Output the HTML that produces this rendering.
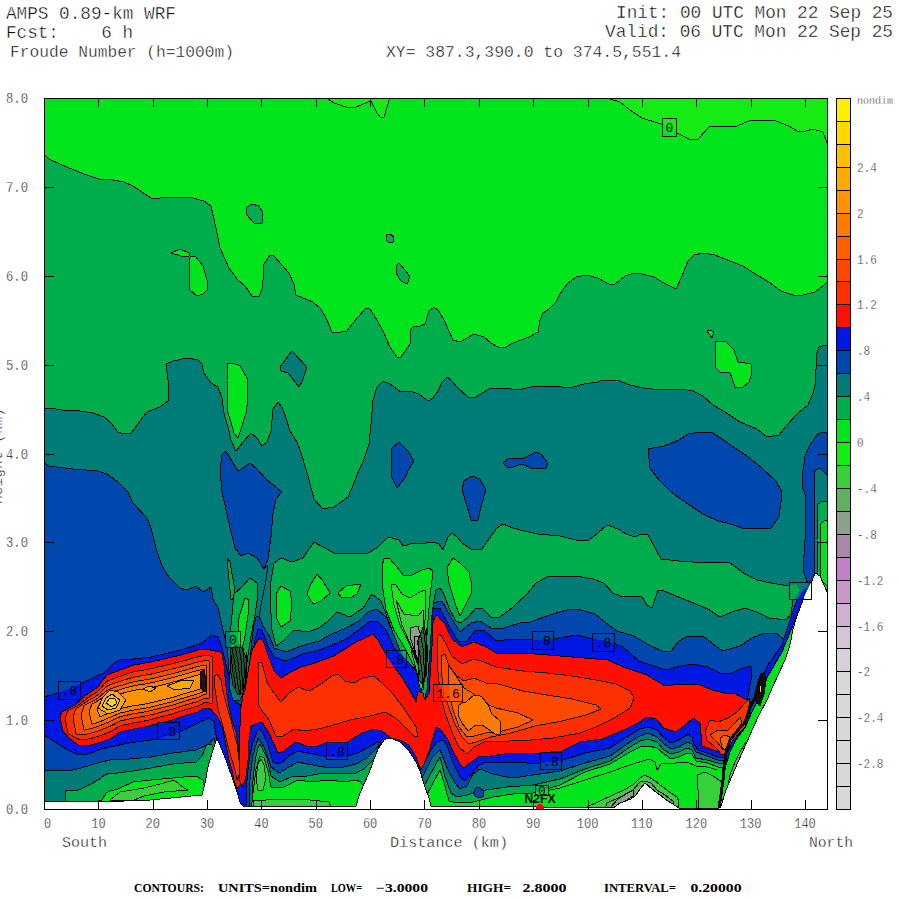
<!DOCTYPE html>
<html><head><meta charset="utf-8"><title>AMPS 0.89-km WRF Froude Number</title>
<style>
html,body{margin:0;padding:0;background:#fff;}
body{width:900px;height:900px;overflow:hidden;position:relative;}
svg{position:absolute;left:0;top:0;}
.m{font-family:"Liberation Mono","DejaVu Sans Mono",monospace;fill:#000;stroke:#fff;stroke-width:0.4px;}
.n{font-family:"Liberation Mono","DejaVu Sans Mono",monospace;fill:#000;}
.s{font-family:"Liberation Serif","DejaVu Serif",serif;font-weight:bold;fill:#000;}
</style></head><body>
<svg width="900" height="900" viewBox="0 0 900 900" shape-rendering="crispEdges">
<defs><clipPath id="pc"><rect x="44" y="98" width="784" height="712"/></clipPath>
<clipPath id="lb0"><rect x="663.0" y="119.0" width="13.0" height="17.0"/></clipPath>
<clipPath id="lb1"><rect x="59.0" y="682.0" width="21.0" height="17.0"/></clipPath>
<clipPath id="lb2"><rect x="158.0" y="723.0" width="21.0" height="16.0"/></clipPath>
<clipPath id="lb3"><rect x="226.0" y="632.0" width="14.0" height="15.0"/></clipPath>
<clipPath id="lb4"><rect x="387.0" y="651.0" width="19.0" height="16.0"/></clipPath>
<clipPath id="lb5"><rect x="327.0" y="743.0" width="20.0" height="16.0"/></clipPath>
<clipPath id="lb6"><rect x="434.0" y="685.0" width="28.0" height="16.0"/></clipPath>
<clipPath id="lb7"><rect x="533.0" y="632.0" width="20.0" height="17.0"/></clipPath>
<clipPath id="lb8"><rect x="593.0" y="634.0" width="21.0" height="17.0"/></clipPath>
<clipPath id="lb9"><rect x="541.0" y="753.0" width="20.0" height="16.0"/></clipPath>
<clipPath id="lb10"><rect x="790.0" y="583.0" width="21.0" height="16.0"/></clipPath>
<clipPath id="lb11"><rect x="536.0" y="786.0" width="12.0" height="9.0"/></clipPath>
<g id="F"><polygon fill="#00E41C" stroke="none" points="40,94 831,94 831,813 40,813"/>
<polygon fill="#14EC14" points="325,97 334,103 346,107 354,108 363,104 371,101 377,113 381,118 384,117 390,97"/>
<polygon fill="#14EC14" points="610,97 610,99 620,102 630,110 642,118 661,124 679,134 691,140 698,139 710,126 720,126 737,126 751,120 776,121 789,126 797,131 806,131 813,129 823,132 827,143 829,143 829,97"/>
<polygon fill="#00AD4C" points="44,154 49,159 62,165 84,174 99,179 113,180 124,182 133,186 151,198 160,198 189,197 204,201 211,206 216,228 220,248 229,268 237,279 246,287 252,296 259,296 262,289 263,280 264,264 270,255 274,256 289,273 294,284 296,295 303,298 313,302 321,309 327,320 332,332 341,332 347,331 353,323 359,316 366,308 370,309 377,320 383,331 390,347 397,357 401,357 410,344 410,330 414,326 420,326 425,324 429,311 434,307 439,311 444,320 449,331 453,340 460,342 467,338 474,334 484,337 491,343 498,347 506,347 513,343 529,337 538,332 540,320 543,313 549,309 556,302 560,294 567,284 576,277 587,275 598,278 605,282 611,285 615,284 625,276 634,273 642,274 654,277 664,283 676,289 682,276 688,261 694,255 703,253 715,255 730,261 743,266 757,275 769,282 781,291 793,295 803,295 815,292 823,286 827,282 829,282 829,812 44,812"/>
<polygon fill="#00AD4C" points="252,204 259,206 263,213 262,223 254,223 246,214 247,207"/>
<polygon fill="#00AD4C" points="386,235 390,234 394,237 393,242 389,243 386,240"/>
<polygon fill="#00AD4C" points="399,263 406,271 410,277 407,284 401,281 396,273 396,266"/>
<polygon fill="#00E41C" points="171,253 180,249 189,253 190,256 195,256 203,266 207,280 207,290 203,294 197,296 190,290 189,273 189,257 181,256"/>
<polygon fill="#00E41C" points="228,363 233,363 240,366 243,371 247,378 248,400 246,413 241,429 238,438 234,433 231,422 228,413 227,380"/>
<polygon fill="#00E41C" points="715,341 726,342 734,350 738,362 751,364 752,373 749,382 743,387 735,387 732,378 730,373 720,372 715,367"/>
<polygon fill="#00E41C" points="707,331 710,330 714,332 712,338"/>
<polygon fill="#007C78" points="42,409 44,409 49,408 62,410 80,411 93,413 104,417 111,423 118,432 124,434 131,433 138,424 147,412 160,407 169,400 168,380 166,364 173,361 187,358 198,360 202,364 204,373 211,383 218,387 222,398 224,413 228,427 231,440 236,451 243,442 251,433 257,438 262,446 267,442 271,431 273,409 278,402 282,407 286,418 290,431 297,442 301,453 306,469 309,480 314,499 323,509 334,507 348,497 354,483 359,470 363,462 369,444 371,424 373,400 377,387 383,381 390,384 401,392 410,391 419,394 424,398 429,401 433,398 438,391 442,382 447,377 451,380 458,388 468,397 476,397 487,390 491,388 504,388 511,389 522,389 536,386 553,386 562,387 573,387 584,384 598,382 602,380 613,380 617,380 630,385 644,388 659,390 681,389 693,391 703,396 713,405 725,412 740,422 757,429 767,437 779,435 786,426 798,413 808,405 813,393 815,385 817,353 819,347 825,345 829,345 829,812 42,812"/>
<polygon fill="#007C78" points="292,351 307,367 302,382 299,387 288,373 281,371 280,367 286,359"/>
<polygon fill="#0048AE" points="222,455 226,451 230,458 238,471 243,468 250,463 257,469 266,479 277,488 282,492 276,499 273,514 271,537 268,559 264,569 257,558 248,553 241,556 235,548 231,532 227,514 222,492 220,470"/>
<polygon fill="#0048AE" points="399,442 408,451 414,461 408,471 405,478 397,488 392,478 391,465 391,449"/>
<polygon fill="#0048AE" points="503,463 509,458 518,458 524,458 536,452 541,454 548,463 546,468 531,468 522,464 513,467 507,467"/>
<polygon fill="#0048AE" points="472,476 480,479 486,490 482,503 478,520 471,520 467,506 462,490 464,481"/>
<polygon fill="#0048AE" points="648,449 664,446 679,440 688,434 701,432 713,433 725,441 735,448 747,456 762,468 776,481 781,490 781,502 779,517 771,528 757,529 742,528 727,523 718,521 703,514 688,504 671,492 659,480 650,468"/>
<polygon fill="#0048AE" points="802,477 805,456 810,445 817,435 820,433 823,432 829,434 829,590 810,590 803,570 805,540 805,510 805,494 802,486"/>
<polygon fill="#007C78" points="814,471 820,468 829,477 829,590 815,575 814,540 814,510"/>
<polygon fill="#00AD4C" points="818,504 823,501 829,502 829,590 818,580 817,540"/>
<polygon fill="#00E41C" points="820,525 825,520 829,522 829,590 821,580 820,550"/>
<polygon fill="#00AD4C" points="274,563 281,558 292,562 303,558 314,542 323,547 334,553 348,553 368,553 377,548 388,537 399,540 403,546 414,543 420,544 433,542 439,544 443,550 448,537 452,533 457,537 462,543 471,549 482,549 489,539 497,528 503,524 513,528 524,531 538,534 560,536 576,540 589,540 598,533 607,525 613,527 620,530 622,532 634,537 642,534 648,535 655,548 661,559 679,561 693,562 713,562 730,563 737,568 745,574 757,580 771,583 789,586 796,584 800,590 793,600 791,614 786,620 769,618 757,612 745,608 732,612 720,617 708,609 691,602 676,596 664,591 658,590 652,608 647,605 642,597 634,596 620,596 613,593 604,583 593,579 576,576 560,576 547,577 536,583 527,594 513,607 500,617 491,617 482,608 476,608 468,617 461,623 456,621 449,608 444,594 440,588 436,590 434,600 432,615 431,640 430,670 428,693 425,700 421,697 418,690 412,675 405,660 399,648 392,630 386,614 381,601 372,594 363,608 350,617 337,612 328,621 319,628 308,632 294,630 283,641 276,646 272,630 271,614 270,592 271,581"/>
<polygon fill="#00E41C" points="281,586 290,591 292,603 290,621 281,627 276,617 276,594"/>
<polygon fill="#00E41C" points="317,574 323,581 330,593 321,601 313,604 307,594 310,586"/>
<polygon fill="#00E41C" points="338,593 346,586 361,584 357,594 350,598 341,597"/>
<polygon fill="#00E41C" points="453,558 460,563 469,572 472,586 471,594 464,608 460,616 456,606 449,583 447,568"/>
<polygon fill="#0048AE" points="42,463 44,463 49,466 73,469 98,471 107,474 118,482 128,492 133,503 147,518 151,528 156,548 162,566 169,577 180,588 187,590 196,586 203,592 211,587 213,599 218,608 221,621 224,634 227,646 229,670 230,690 233,700 240,700 245,690 250,660 252,640 254,625 256,617 259,616 263,626 270,637 274,648 286,652 301,646 319,641 332,634 346,628 359,621 368,612 377,609 386,617 392,630 399,648 405,660 412,675 418,690 422,698 426,700 429,692 431,670 432,640 433,615 433,603 442,601 451,617 460,632 471,623 480,621 491,628 504,628 520,623 530,622 553,614 567,610 577,609 595,614 610,626 617,631 634,636 649,645 664,652 671,651 679,641 688,636 703,636 713,644 723,651 740,646 752,638 762,634 776,633 784,639 788,646 829,646 829,812 42,812"/>
<polygon fill="#0018E4" points="42,697 44,697 58,693 80,684 93,678 104,673 113,664 120,660 133,659 151,657 173,652 191,647 196,645 202,643 207,639 212,635 218,637 222,648 225,660 228,672 232,690 236,702 242,706 247,700 250,680 252,660 255,640 258,629 262,630 268,646 274,657 286,661 303,654 319,650 330,646 346,639 359,630 370,621 377,621 386,630 394,648 400,654 410,664 417,672 421,690 424,700 427,690 430,650 432,620 433,608 440,608 449,626 458,641 467,641 476,630 484,630 496,641 513,639 533,640 553,639 577,635 593,639 609,641 623,647 639,661 654,666 666,670 681,666 693,664 708,667 720,673 732,673 740,669 750,666 752,668 751,680 748,696 746,704 740,712 829,712 829,812 42,812"/>
<polygon fill="#0048AE" points="42,735 44,735 55,742 66,749 76,754 83,755 91,753 101,749 110,747 129,743 158,739 178,733 196,724 209,718 214,722 216,735 220,745 224,760 230,780 236,800 238,812 246,812 246,790 248,770 250,755 253,742 256,735 258,729 262,731 267,742 273,762 280,764 289,756 298,751 307,753 324,756 340,758 358,753 369,747 378,742 386,745 400,750 412,762 418,772 421,770 426,760 431,750 437,742 443,740 447,745 453,763 460,777 465,781 471,775 479,765 487,762 500,763 513,762 527,763 540,763 560,761 585,753 610,748 630,735 640,729 648,727 657,730 664,738 671,743 679,740 688,734 692,737 694,744 698,750 707,753 718,757 724,758 829,758 829,812 42,812"/>
<polygon fill="#007C78" points="42,770 44,770 55,770 69,771 81,768 91,765 101,762 110,760 129,759 151,757 173,753 196,750 209,744 214,738 216,745 222,760 230,790 236,812 249,812 249,790 251,770 253,755 256,745 258,738 264,747 271,767 279,773 289,767 298,762 307,764 324,767 340,768 356,764 367,758 376,749 382,742 390,745 405,755 415,770 420,782 426,770 432,758 440,750 448,770 455,783 460,789 467,786 473,774 480,769 493,774 507,777 520,777 533,775 547,773 560,771 585,763 610,756 630,742 640,736 648,733 657,737 664,744 671,749 679,747 687,742 692,744 696,752 707,756 718,760 829,760 829,812 42,812"/>
<polygon fill="#00AD4C" points="42,812 64,812 66,790 76,791 83,788 91,784 98,780 105,775 110,773 118,773 133,771 151,768 173,764 196,762 202,756 207,744 212,745 218,760 226,790 232,812 252,812 252,790 254,770 256,756 258,748 260,744 267,758 271,776 280,782 293,776 307,776 324,773 340,774 356,773 364,769 373,760 380,752 392,752 405,762 415,775 422,790 430,775 440,757 445,777 451,793 457,797 467,795 480,791 493,789 507,787 520,786 533,785 560,779 585,769 610,761 630,747 640,741 648,739 657,742 664,750 671,754 679,752 687,748 692,750 696,758 707,760 718,763 829,763 829,812 42,812"/>
<polygon fill="#00E41C" points="42,812 99,812 99,800 102,800 106,793 110,791 118,789 133,782 151,780 173,778 196,776 203,780 205,790 212,770 220,770 228,800 230,812 251,812 253,793 256,769 260,756 264,758 268,771 271,787 284,787 298,780 311,782 329,780 344,782 356,780 361,782 364,787 370,790 420,790 425,798 432,785 440,770 445,786 449,801 457,803 473,802 493,797 513,794 533,793 560,785 585,772 610,764 630,752 640,747 648,746 657,748 664,754 671,759 679,757 687,753 692,754 696,761 707,763 718,767 829,767 829,812 42,812"/>
<polygon fill="#0048AE" points="474,790 478,787 483,790 484,796 479,798 475,796"/>
<polygon fill="#38D038" points="253,812 253,801 280,799 310,800 329,802 332,812"/>
<polygon fill="#38D038" points="256,778 258,764 261,759 264,765 266,778 263,790 258,790"/>
<polygon fill="#38D038" points="584,812 587,807 600,801 613,795 624,790 633,785 639,779 644,775 649,777 655,781 663,787 671,793 677,797 679,802 678,812"/>
<polygon fill="#60B060" points="604,812 607,803 620,797 633,790 640,782 645,781 651,783 657,790 665,795 673,801 676,812"/>
<polygon fill="#8CA08C" points="610,808 618,799 628,793 634,790 633,796 624,802 616,808"/>
<polygon fill="#38D038" points="698,812 698,790 697,775 705,772 713,776 722,782 724,770 734,760 740,790 730,812"/>
<polygon fill="#FF1000" points="60,715 62,712 69,708 75,705 82,699 86,695 92,691 98,687 102,681 107,675 115,672 134,665 151,662 168,658 185,654 198,650 206,649 215,651 219,651 222,654 224,665 225,677 227,695 229,707 232,720 236,732 238,744 240,760 241,775 240,785 237,789 234,780 232,770 229,760 227,750 225,740 223,730 220,722 217,716 213,712 210,708 204,708 198,712 187,715 172,720 160,723 145,727 134,729 120,732 110,739 98,743 91,745 83,746 78,745 69,738 63,731 61,722"/>
<polygon fill="#FF1000" points="240,713 242,701 245,683 250,658 253,648 258,640 261,638 264,643 268,655 274,671 281,678 289,673 301,667 312,664 323,660 334,656 345,649 356,642 365,638 373,634 378,640 385,653 392,664 401,676 409,689 416,702 418,691 423,693 425,700 429,693 432,647 433,623 435,617 437,615 445,624 452,639 462,647 474,642 486,647 498,654 518,653 535,654 560,656 584,658 608,660 623,667 647,675 665,686 682,684 698,684 712,690 724,693 734,693 743,698 751,702 748,710 743,718 735,730 729,743 726,748 722,753 713,750 702,746 701,734 700,723 693,718 684,726 676,732 664,728 656,719 647,717 638,723 624,730 602,739 580,742 562,751 540,753 520,753 504,754 491,756 480,756 471,762 464,768 460,764 453,751 447,738 440,729 436,727 433,738 429,751 424,764 421,770 416,757 409,745 400,740 391,738 382,731 374,729 362,733 347,742 325,743 316,747 307,746 296,742 284,751 278,753 269,733 262,722 256,724 251,726 249,740 248,760 246,776 243,787 240,782 239,760 239,740 240,726"/>
<polygon fill="#007C78" stroke="none" points="211,587 213,599 218,608 221,621 224,634 227,646 229,670 230,690 233,700 240,700 245,690 250,660 252,640 254,625 256,617 259,616 262,600 266,580 268,565 264,569 257,558 248,553 241,556 235,548 231,545 226,560 220,575"/>
<polygon fill="#00AD4C" points="227,558 230,562 234,585 234,598 231,600 229,580"/>
<polygon fill="#00AD4C" points="234,594 242,587 250,578 257,583 258,594 255,615 251,636 247,662 243.5,685 238,687 232,662 230,636 232,615"/>
<polygon fill="#00E41C" points="238,621 245,598 249,600 248,615 245,636 242,650 238,640"/>
<polygon fill="#1a5a2a" points="230,650 236,645 242,648 247,660 246,680 243,693 238,695 233,685 230,668"/>
<polygon fill="#00E41C" points="382,566 384,559 389,558 396,566 404,576 412,575 422,570 430,568 433,572 432,580 430,596 428,620 426,650 425,675 423,690 420,688 416,670 406,650 394,630 386,610 383,590"/>
<polygon fill="#14EC14" points="391,584 396,585 402,594 410,598 420,592 425,590 426,600 425,620 424,650 422,670 418,665 410,645 400,625 394,605"/>
<polygon fill="#38D038" points="396,600 404,614 418,616 423,610 424,620 423,650 420,665 412,648 402,625"/>
<polygon fill="#8CA08C" points="410,628 418,626 422,640 421,655 416,655 411,640"/>
<polygon fill="#A888A8" points="414,636 419,636 420,652 418,660 415,652"/>
<polygon fill="#2a6a3a" points="418,640 424,625 427,640 426,665 423,685 419,680"/>
<polygon fill="#FF3000" points="214,683 215,676 217,674 221,680 223,691 227,707 231,720 234,733 237,744 239,760 239,775 237,780 235,770 232,760 229,750 226,738 222,723 218,708 216,695"/>
<polygon fill="#FF3000" points="65,718.4 68,710.537 72,708.72 76,706.674 80,703.771 84,700.52 88,697.573 92,695.16 96,692.747 100,689 104,684.28 108,680.7 112,679.2 116,677.805 120,676.426 124,675.047 128,673.668 132,672.329 136,671.338 140,670.653 144,669.968 148,669.284 152,668.512 156,667.559 160,666.606 164,665.653 168,664.7 172,663.727 176,662.734 180,661.741 184,660.748 188,659.582 192,658.37 196,657.172 200,656.267 204,655.653 208,655.721 212,656.327 213,681.636 212,703.794 208,702.655 204,702.653 200,705 196,706.716 192,707.802 188,708.902 184,710.16 180,711.467 176,712.773 172,714.08 168,715.1 164,716.1 160,717.1 156,718.153 152,719.207 148,720.22 144,721.125 140,721.827 136,722.529 132,723.283 128,724.129 124,725.014 120,725.9 116,728.34 112,730.78 108,732.733 104,734.2 100,735.667 96,736.937 92,738.131 88,738.94 84,739.62 80,739.52 76,738.116 72,735.787 68,733.147"/>
<polygon fill="#FF4800" points="73,716.8 76,708.699 80,706.217 84,703.336 88,700.699 92,698.488 96,696.277 100,693 104,688.824 108,685.56 112,684.06 116,682.744 120,681.441 124,680.138 128,678.835 132,677.604 136,676.69 140,676.022 144,675.355 148,674.687 152,673.909 156,672.947 160,671.985 164,671.022 168,670.06 172,669.062 176,668.027 180,666.993 184,665.959 188,664.785 192,663.59 196,662.418 200,661.48 204,660.776 208,660.832 209,660.971 210,681.364 209,698.411 208,698.378 204,698.376 200,700.467 196,702.053 192,703.135 188,704.241 184,705.488 180,706.773 176,708.059 172,709.344 168,710.38 164,711.38 160,712.38 156,713.423 152,714.465 148,715.436 144,716.28 140,716.962 136,717.643 132,718.366 128,719.203 124,720.111 120,721.02 116,723.172 112,725.324 108,727.187 104,728.76 100,730.333 96,731.63 92,732.865 88,733.792 84,734.616 80,734.816 76,733.852"/>
<polygon fill="#FF6000" points="81,714.6 84,705.8 88,703.433 92,701.4 96,699.367 100,696.5 104,692.8 108,689.812 112,688.312 116,687.066 120,685.829 124,684.592 128,683.355 132,682.218 136,681.374 140,680.721 144,680.068 148,679.415 152,678.632 156,677.662 160,676.691 164,675.721 168,674.75 172,673.729 176,672.659 180,671.588 184,670.518 188,669.338 192,668.156 196,667.008 200,666.042 204,665.258 206,665.045 207,681.091 206,694.545 204,694.633 200,696.5 196,697.973 192,699.052 188,700.164 184,701.4 180,702.667 176,703.933 172,705.2 168,706.25 164,707.25 160,708.25 156,709.283 152,710.317 148,711.25 144,712.041 140,712.705 136,713.368 132,714.064 128,714.893 124,715.821 120,716.75 116,718.65 112,720.55 108,722.333 104,724 100,725.667 96,726.986 92,728.257 88,729.288 84,730.237"/>
<polygon fill="#FF7C00" points="89,711.8 92,703.896 96,702.015 100,699.5 104,696.208 108,693.457 112,691.957 116,690.77 120,689.59 124,688.41 128,687.23 132,686.174 136,685.388 140,684.748 144,684.107 148,683.467 152,682.681 156,681.703 160,680.725 164,679.748 168,678.77 172,677.73 176,676.629 180,675.527 184,674.425 188,673.241 192,672.071 196,670.942 200,669.952 204,669.1 205,681.267 204,691.425 200,693.1 196,694.475 192,695.551 188,696.668 184,697.896 180,699.147 176,700.397 172,701.648 168,702.71 164,703.71 160,704.71 156,705.735 152,706.761 148,707.662 144,708.407 140,709.055 136,709.704 132,710.377 128,711.199 124,712.144 120,713.09 116,714.774 112,716.458 108,718.173 104,719.92 100,721.667 96,723.005 92,724.307"/>
<polygon fill="#FF9400" points="97,709 100,703 104,700.184 108,697.71 112,696.21 116,695.092 120,693.978 124,692.864 128,691.751 132,690.789 136,690.071 140,689.446 144,688.82 148,688.195 152,687.404 156,686.418 160,685.432 164,684.446 168,683.46 172,682.398 176,681.26 180,680.122 184,678.984 188,677.794 192,676.638 196,675.532 200,674.513 201,682.333 200,689.133 196,690.395 192,691.467 188,692.591 184,693.808 180,695.04 176,696.272 172,697.504 168,698.58 164,699.58 160,700.58 156,701.596 152,702.612 148,703.476 144,704.168 140,704.798 136,705.429 132,706.075 128,706.889 124,707.854 120,708.82 116,710.252 112,711.684 108,713.32 104,715.16 100,717"/>
<polygon fill="#FFAA00" points="98,708 103,697 110,690 118,692 126,700 120,710 108,714"/>
<polygon fill="#FFC000" points="102,706 106,698 112,694 120,700 116,708 108,710"/>
<polygon fill="#FFD800" points="106,703 110,698 115,699 117,703 112,707"/>
<polygon fill="#FFAA00" points="143,689 149,686 156,688 150,692"/>
<polygon fill="#FFAA00" points="167,686 180,681 194,680 190,688 175,690"/>
<polygon fill="#301000" points="200,672 204,670 206,680 205,692 202,690"/>
<polygon fill="#38D038" points="110,800 120,792 144,788 164,783 174,780 184,788 188,790 164,792 144,796 134,800"/>
<polygon fill="#FF3000" points="258,662 262,663 267,682 274,693 281,702 289,693 298,687 309,691 321,684 332,676 338,674 345,681 354,683 363,678 374,676 383,684 392,693 403,707 409,716 416,727 418,736 414,736 405,727 396,718 385,712 370,716 350,720 330,726 318,729 305,731 294,729 283,736 276,736 269,720 261,709 258,704 258,687"/>
<polygon fill="#FF3000" points="437,661 437,637 440,634 445,642 452,656 462,664 474,659 484,662 496,667 523,671 547,673 572,676 596,680 616,684 630,691 634,698 630,708 616,717 596,727 580,733 553,738 531,740 509,741 484,742 474,747 467,754 459,747 452,732 445,713 440,693"/>
<polygon fill="#FF4800" points="441,668 441,656 445,654 449,666 457,676 464,681 474,678 486,683 498,684 523,691 547,695 572,699 596,705 601,709 586,715 562,721 535,726 511,733 491,737 476,742 469,744 462,737 454,722 448,705 443,686"/>
<polygon fill="#FF6000" points="448,673 448,664 454,673 464,688 474,694 484,703 496,708 518,713 533,720 518,727 498,732 486,733 474,736 467,737 459,727 453,710 449,693"/>
<polygon fill="#FF7C00" points="458,706 462,703 466,702 474,695 478,695 482,697 488,705 492,714 500,721 500,734 495,734 488,729 482,725 476,725 468,731 462,723 459,717"/>
<polygon fill="#FF3000" points="705,732 710,720 718,722 728,718 737,712 745,703 750,698 748,712 745,727 733,740 727,753 722,755 715,747 707,740"/>
<polygon fill="#FF4800" points="710,735 718,730 728,730 735,723 740,717 742,723 733,735 728,747 723,750 718,743"/>
<polygon fill="#FF6000" points="720,738 725,735 730,737 728,745 725,750 722,747"/>
<polygon fill="#0018E4" points="760,690 763,676 768,665 775,655 782,645 786,632 790,620 794,608 798,598 803,590 808,585 805,595 801,605 797,616 793,629 789,640 784,652 776,666 768,680"/>
<polygon fill="#00E41C" points="719,808 721,795 723,780 726,765 730,752 736,740 745,728 752,712 758,700 763,688 768,676 775,664 782,652 787,640 793,625 799,610 805,595 812,580 816,575 831,590 831,812"/>
<polygon fill="#60B060" points="727,790 730,775 735,762 741,750 746,742 744,752 738,765 733,778 729,790"/>
<polygon fill="#101010" points="755,700 757,688 760,676 764,672 766,680 764,694 760,706"/>
<polygon fill="#FFD800" points="759,688 761,684 762,690 760,694"/>
<polygon fill="#FFFFFF" points="40,801 98,802 150,800 202,795 205,783 208,767 212,753 217,738 222,750 227,763 232,777 237,792 240,802 243,806 250,806 356,806 360,793 364,784 369,773 373,762 378,749 384,740 388,738 393,739 400,742 409,751 416,762 420,771 424,784 429,798 431,806 540,807 606,807 613,808 620,803 631,799 636,795 640,789 645,783 652,789 660,795 668,801 679,808 719,808 721,806 726,790 732,776 738,762 746,744 753,728 760,713 767,700 773,686 779,673 785,660 789,648 791,640 793,629 797,616 801,605 805,595 811,583 815,573 820,576 825,587 827,592 831,594 831,813 40,813"/></g>
</defs>
<g clip-path="url(#pc)" stroke-linejoin="round">
<use href="#F" stroke="#000" stroke-width="1"/>
<polyline fill="none" stroke="#000" stroke-width="1" points="540,792 560,788 585,780 610,772 630,765 649,759 655,762 657,770 661,764 676,763 687,762 696,766 707,767 718,770"/>
<polyline fill="none" stroke="#000" stroke-width="1" points="211,587 213,599 218,608 221,621 224,634 227,646 229,670 230,690 233,700 240,700 245,690 250,660 252,640 254,625 256,617 259,616 262,600 266,580 268,565 264,569 257,558 248,553 241,556 235,548"/>
<polyline fill="none" stroke="#000" stroke-width="1" points="232,648 235,665 238,685 240,694"/>
<polyline fill="none" stroke="#000" stroke-width="1" points="235,646 238,662 240,680 241,693"/>
<polyline fill="none" stroke="#000" stroke-width="1" points="239,645 241,660 242,676 242,690"/>
<polyline fill="none" stroke="#000" stroke-width="1" points="243,648 244,662 244,678 243,690"/>
<polyline fill="none" stroke="#000" stroke-width="1" points="246,652 246,668 245,684"/>
<polyline fill="none" stroke="#000" stroke-width="1" points="231,655 233,672 236,688"/>
<polyline fill="none" stroke="#000" stroke-width="1" points="417,640 420,655 422,672 423,688"/>
<polyline fill="none" stroke="#000" stroke-width="1" points="420,632 423,648 424,665 424,682"/>
<polyline fill="none" stroke="#000" stroke-width="1" points="423,626 425,642 426,660 425,678"/>
<polyline fill="none" stroke="#000" stroke-width="1" points="426,628 427,645 427,662 426,676"/>
<polyline fill="none" stroke="#000" stroke-width="1" points="414,645 417,660 420,675"/>
<polyline fill="none" stroke="#000" stroke-width="1" points="411,650 415,665 419,680"/>
<polyline fill="none" stroke="#000" stroke-width="3" points="719,808 721,795 723,780 724,768 726,753 730,740 738,730 745,722 750,708 755,697 758,685 762,673"/>
<use href="#F" stroke="none" clip-path="url(#lb0)"/>
<use href="#F" stroke="none" clip-path="url(#lb1)"/>
<use href="#F" stroke="none" clip-path="url(#lb2)"/>
<use href="#F" stroke="none" clip-path="url(#lb3)"/>
<use href="#F" stroke="none" clip-path="url(#lb4)"/>
<use href="#F" stroke="none" clip-path="url(#lb5)"/>
<use href="#F" stroke="none" clip-path="url(#lb6)"/>
<use href="#F" stroke="none" clip-path="url(#lb7)"/>
<use href="#F" stroke="none" clip-path="url(#lb8)"/>
<use href="#F" stroke="none" clip-path="url(#lb9)"/>
<use href="#F" stroke="none" clip-path="url(#lb10)"/>
<use href="#F" stroke="none" clip-path="url(#lb11)"/>
<rect x="662.5" y="118.5" width="14.0" height="18.0" fill="none" stroke="#000" stroke-width="1"/>
<text class="n" x="669.5" y="132.0" font-size="13" text-anchor="middle">0</text>
<rect x="58.5" y="681.5" width="22.0" height="18.0" fill="none" stroke="#000" stroke-width="1"/>
<text class="n" x="69.5" y="695.0" font-size="13" text-anchor="middle">.8</text>
<rect x="157.5" y="722.5" width="22.0" height="17.0" fill="none" stroke="#000" stroke-width="1"/>
<text class="n" x="168.5" y="735.5" font-size="13" text-anchor="middle">.8</text>
<rect x="225.5" y="631.5" width="15.0" height="16.0" fill="none" stroke="#000" stroke-width="1"/>
<text class="n" x="233.0" y="644.0" font-size="13" text-anchor="middle">0</text>
<rect x="386.5" y="650.5" width="20.0" height="17.0" fill="none" stroke="#000" stroke-width="1"/>
<text class="n" x="396.5" y="663.5" font-size="13" text-anchor="middle">.8</text>
<rect x="326.5" y="742.5" width="21.0" height="17.0" fill="none" stroke="#000" stroke-width="1"/>
<text class="n" x="337.0" y="755.5" font-size="13" text-anchor="middle">.8</text>
<rect x="433.5" y="684.5" width="29.0" height="17.0" fill="none" stroke="#000" stroke-width="1"/>
<text class="n" x="448.0" y="697.5" font-size="13" text-anchor="middle">1.6</text>
<rect x="532.5" y="631.5" width="21.0" height="18.0" fill="none" stroke="#000" stroke-width="1"/>
<text class="n" x="543.0" y="645.0" font-size="13" text-anchor="middle">.8</text>
<rect x="592.5" y="633.5" width="22.0" height="18.0" fill="none" stroke="#000" stroke-width="1"/>
<text class="n" x="603.5" y="647.0" font-size="13" text-anchor="middle">.8</text>
<rect x="540.5" y="752.5" width="21.0" height="17.0" fill="none" stroke="#000" stroke-width="1"/>
<text class="n" x="551.0" y="765.5" font-size="13" text-anchor="middle">.8</text>
<rect x="789.5" y="582.5" width="22.0" height="17.0" fill="none" stroke="#000" stroke-width="1"/>
<text class="n" x="800.5" y="595.5" font-size="13" text-anchor="middle"></text>
<rect x="535.5" y="785.5" width="13.0" height="10.0" fill="none" stroke="#000" stroke-width="1"/>
<text class="n" x="542.0" y="795.0" font-size="13" text-anchor="middle">0</text>
<text x="540" y="803" font-family="Liberation Sans,DejaVu Sans,sans-serif" font-weight="bold" font-size="12" text-anchor="middle" fill="#000" textLength="31" lengthAdjust="spacingAndGlyphs">N2FX</text>
<circle cx="540" cy="808" r="4" fill="#FF0000"/>
</g>
<rect x="44.5" y="98.5" width="783" height="711" fill="none" stroke="#000" stroke-width="1"/>
<path d="M44.5,809V800M44.5,98V107M98.5,809V800M98.5,98V107M153.5,809V800M153.5,98V107M207.5,809V800M207.5,98V107M261.5,809V800M261.5,98V107M316.5,809V800M316.5,98V107M370.5,809V800M370.5,98V107M424.5,809V800M424.5,98V107M479.5,809V800M479.5,98V107M533.5,809V800M533.5,98V107M588.5,809V800M588.5,98V107M642.5,809V800M642.5,98V107M696.5,809V800M696.5,98V107M751.5,809V800M751.5,98V107M805.5,809V800M805.5,98V107M44,809.5H54M828,809.5H818M44,720.5H54M828,720.5H818M44,631.5H54M828,631.5H818M44,542.5H54M828,542.5H818M44,454.5H54M828,454.5H818M44,365.5H54M828,365.5H818M44,276.5H54M828,276.5H818M44,187.5H54M828,187.5H818M44,98.5H54M828,98.5H818" stroke="#000" stroke-width="1" fill="none"/>
<rect x="836.5" y="98.50" width="14" height="22.94" fill="#FFEE00" stroke="#000" stroke-width="1"/>
<rect x="836.5" y="121.44" width="14" height="22.94" fill="#FFD800" stroke="#000" stroke-width="1"/>
<rect x="836.5" y="144.37" width="14" height="22.94" fill="#FFC000" stroke="#000" stroke-width="1"/>
<rect x="836.5" y="167.31" width="14" height="22.94" fill="#FFAA00" stroke="#000" stroke-width="1"/>
<rect x="836.5" y="190.24" width="14" height="22.94" fill="#FF9400" stroke="#000" stroke-width="1"/>
<rect x="836.5" y="213.18" width="14" height="22.94" fill="#FF7C00" stroke="#000" stroke-width="1"/>
<rect x="836.5" y="236.11" width="14" height="22.94" fill="#FF6000" stroke="#000" stroke-width="1"/>
<rect x="836.5" y="259.05" width="14" height="22.94" fill="#FF4800" stroke="#000" stroke-width="1"/>
<rect x="836.5" y="281.98" width="14" height="22.94" fill="#FF3000" stroke="#000" stroke-width="1"/>
<rect x="836.5" y="304.92" width="14" height="22.94" fill="#FF1000" stroke="#000" stroke-width="1"/>
<rect x="836.5" y="327.85" width="14" height="22.94" fill="#0018E4" stroke="#000" stroke-width="1"/>
<rect x="836.5" y="350.79" width="14" height="22.94" fill="#0048AE" stroke="#000" stroke-width="1"/>
<rect x="836.5" y="373.73" width="14" height="22.94" fill="#007C78" stroke="#000" stroke-width="1"/>
<rect x="836.5" y="396.66" width="14" height="22.94" fill="#00AD4C" stroke="#000" stroke-width="1"/>
<rect x="836.5" y="419.60" width="14" height="22.94" fill="#00E41C" stroke="#000" stroke-width="1"/>
<rect x="836.5" y="442.53" width="14" height="22.94" fill="#14EC14" stroke="#000" stroke-width="1"/>
<rect x="836.5" y="465.47" width="14" height="22.94" fill="#38D038" stroke="#000" stroke-width="1"/>
<rect x="836.5" y="488.40" width="14" height="22.94" fill="#60B060" stroke="#000" stroke-width="1"/>
<rect x="836.5" y="511.34" width="14" height="22.94" fill="#8CA08C" stroke="#000" stroke-width="1"/>
<rect x="836.5" y="534.27" width="14" height="22.94" fill="#A888A8" stroke="#000" stroke-width="1"/>
<rect x="836.5" y="557.21" width="14" height="22.94" fill="#C080C8" stroke="#000" stroke-width="1"/>
<rect x="836.5" y="580.15" width="14" height="22.94" fill="#C898C8" stroke="#000" stroke-width="1"/>
<rect x="836.5" y="603.08" width="14" height="22.94" fill="#D0B0D0" stroke="#000" stroke-width="1"/>
<rect x="836.5" y="626.02" width="14" height="22.94" fill="#D4C4D4" stroke="#000" stroke-width="1"/>
<rect x="836.5" y="648.95" width="14" height="22.94" fill="#D8D0D8" stroke="#000" stroke-width="1"/>
<rect x="836.5" y="671.89" width="14" height="22.94" fill="#D8D8D8" stroke="#000" stroke-width="1"/>
<rect x="836.5" y="694.82" width="14" height="22.94" fill="#D8D8D8" stroke="#000" stroke-width="1"/>
<rect x="836.5" y="717.76" width="14" height="22.94" fill="#D8D8D8" stroke="#000" stroke-width="1"/>
<rect x="836.5" y="740.69" width="14" height="22.94" fill="#D8D8D8" stroke="#000" stroke-width="1"/>
<rect x="836.5" y="763.63" width="14" height="22.94" fill="#D8D8D8" stroke="#000" stroke-width="1"/>
<rect x="836.5" y="786.56" width="14" height="22.94" fill="#D8D8D8" stroke="#000" stroke-width="1"/>
</svg>
<svg width="900" height="900" viewBox="0 0 900 900">
<text class="m" x="6" y="18.5" font-size="17.5" textLength="170" lengthAdjust="spacingAndGlyphs" xml:space="preserve">AMPS 0.89-km WRF</text>
<text class="m" x="6" y="38" font-size="17.5" textLength="127" lengthAdjust="spacingAndGlyphs" xml:space="preserve">Fcst:    6 h</text>
<text class="m" x="10" y="57" font-size="16" textLength="224" lengthAdjust="spacingAndGlyphs" xml:space="preserve">Froude Number (h=1000m)</text>
<text class="m" x="386" y="57" font-size="16" textLength="295" lengthAdjust="spacingAndGlyphs" xml:space="preserve">XY= 387.3,390.0 to 374.5,551.4</text>
<text class="m" x="616" y="18" font-size="17.5" textLength="277" lengthAdjust="spacingAndGlyphs" xml:space="preserve">Init: 00 UTC Mon 22 Sep 25</text>
<text class="m" x="605" y="36.5" font-size="17.5" textLength="288" lengthAdjust="spacingAndGlyphs" xml:space="preserve">Valid: 06 UTC Mon 22 Sep 25</text>
<text class="m" transform="translate(1.5,504) rotate(-90)" font-size="15" textLength="96" lengthAdjust="spacingAndGlyphs">Height (km)</text>
<text class="m" x="6" y="814" font-size="14" textLength="22" lengthAdjust="spacingAndGlyphs" xml:space="preserve">0.0</text>
<text class="m" x="6" y="725" font-size="14" textLength="22" lengthAdjust="spacingAndGlyphs" xml:space="preserve">1.0</text>
<text class="m" x="6" y="636" font-size="14" textLength="22" lengthAdjust="spacingAndGlyphs" xml:space="preserve">2.0</text>
<text class="m" x="6" y="547" font-size="14" textLength="22" lengthAdjust="spacingAndGlyphs" xml:space="preserve">3.0</text>
<text class="m" x="6" y="459" font-size="14" textLength="22" lengthAdjust="spacingAndGlyphs" xml:space="preserve">4.0</text>
<text class="m" x="6" y="370" font-size="14" textLength="22" lengthAdjust="spacingAndGlyphs" xml:space="preserve">5.0</text>
<text class="m" x="6" y="281" font-size="14" textLength="22" lengthAdjust="spacingAndGlyphs" xml:space="preserve">6.0</text>
<text class="m" x="6" y="192" font-size="14" textLength="22" lengthAdjust="spacingAndGlyphs" xml:space="preserve">7.0</text>
<text class="m" x="6" y="103" font-size="14" textLength="22" lengthAdjust="spacingAndGlyphs" xml:space="preserve">8.0</text>
<text class="m" x="43.9" y="828" font-size="14" textLength="7.2" lengthAdjust="spacingAndGlyphs" xml:space="preserve">0</text>
<text class="m" x="91.2" y="828" font-size="14" textLength="14.4" lengthAdjust="spacingAndGlyphs" xml:space="preserve">10</text>
<text class="m" x="145.5" y="828" font-size="14" textLength="14.4" lengthAdjust="spacingAndGlyphs" xml:space="preserve">20</text>
<text class="m" x="199.9" y="828" font-size="14" textLength="14.4" lengthAdjust="spacingAndGlyphs" xml:space="preserve">30</text>
<text class="m" x="254.2" y="828" font-size="14" textLength="14.4" lengthAdjust="spacingAndGlyphs" xml:space="preserve">40</text>
<text class="m" x="308.6" y="828" font-size="14" textLength="14.4" lengthAdjust="spacingAndGlyphs" xml:space="preserve">50</text>
<text class="m" x="362.9" y="828" font-size="14" textLength="14.4" lengthAdjust="spacingAndGlyphs" xml:space="preserve">60</text>
<text class="m" x="417.3" y="828" font-size="14" textLength="14.4" lengthAdjust="spacingAndGlyphs" xml:space="preserve">70</text>
<text class="m" x="471.7" y="828" font-size="14" textLength="14.4" lengthAdjust="spacingAndGlyphs" xml:space="preserve">80</text>
<text class="m" x="526.0" y="828" font-size="14" textLength="14.4" lengthAdjust="spacingAndGlyphs" xml:space="preserve">90</text>
<text class="m" x="576.8" y="828" font-size="14" textLength="21.6" lengthAdjust="spacingAndGlyphs" xml:space="preserve">100</text>
<text class="m" x="631.1" y="828" font-size="14" textLength="21.6" lengthAdjust="spacingAndGlyphs" xml:space="preserve">110</text>
<text class="m" x="685.5" y="828" font-size="14" textLength="21.6" lengthAdjust="spacingAndGlyphs" xml:space="preserve">120</text>
<text class="m" x="739.8" y="828" font-size="14" textLength="21.6" lengthAdjust="spacingAndGlyphs" xml:space="preserve">130</text>
<text class="m" x="794.2" y="828" font-size="14" textLength="21.6" lengthAdjust="spacingAndGlyphs" xml:space="preserve">140</text>
<text class="m" x="62" y="847" font-size="15.5" textLength="45" lengthAdjust="spacingAndGlyphs" xml:space="preserve">South</text>
<text class="m" x="390" y="847" font-size="15.5" textLength="118" lengthAdjust="spacingAndGlyphs" xml:space="preserve">Distance (km)</text>
<text class="m" x="809" y="847" font-size="15.5" textLength="44" lengthAdjust="spacingAndGlyphs" xml:space="preserve">North</text>
<text class="m" x="857" y="104" font-size="11" textLength="36" lengthAdjust="spacingAndGlyphs" xml:space="preserve">nondim</text>
<text class="m" x="857" y="172" font-size="13" textLength="19.799999999999997" lengthAdjust="spacingAndGlyphs" xml:space="preserve">2.4</text>
<text class="m" x="857" y="218" font-size="13" textLength="6.6" lengthAdjust="spacingAndGlyphs" xml:space="preserve">2</text>
<text class="m" x="857" y="264" font-size="13" textLength="19.799999999999997" lengthAdjust="spacingAndGlyphs" xml:space="preserve">1.6</text>
<text class="m" x="857" y="309" font-size="13" textLength="19.799999999999997" lengthAdjust="spacingAndGlyphs" xml:space="preserve">1.2</text>
<text class="m" x="857" y="355" font-size="13" textLength="13.2" lengthAdjust="spacingAndGlyphs" xml:space="preserve">.8</text>
<text class="m" x="857" y="401" font-size="13" textLength="13.2" lengthAdjust="spacingAndGlyphs" xml:space="preserve">.4</text>
<text class="m" x="857" y="447" font-size="13" textLength="6.6" lengthAdjust="spacingAndGlyphs" xml:space="preserve">0</text>
<text class="m" x="857" y="493" font-size="13" textLength="19.799999999999997" lengthAdjust="spacingAndGlyphs" xml:space="preserve">-.4</text>
<text class="m" x="857" y="539" font-size="13" textLength="19.799999999999997" lengthAdjust="spacingAndGlyphs" xml:space="preserve">-.8</text>
<text class="m" x="857" y="585" font-size="13" textLength="26.4" lengthAdjust="spacingAndGlyphs" xml:space="preserve">-1.2</text>
<text class="m" x="857" y="631" font-size="13" textLength="26.4" lengthAdjust="spacingAndGlyphs" xml:space="preserve">-1.6</text>
<text class="m" x="857" y="676" font-size="13" textLength="13.2" lengthAdjust="spacingAndGlyphs" xml:space="preserve">-2</text>
<text class="m" x="857" y="722" font-size="13" textLength="26.4" lengthAdjust="spacingAndGlyphs" xml:space="preserve">-2.4</text>
<text class="m" x="857" y="768" font-size="13" textLength="26.4" lengthAdjust="spacingAndGlyphs" xml:space="preserve">-2.8</text>
<text class="s" x="134" y="892" font-size="12" textLength="70" lengthAdjust="spacingAndGlyphs" xml:space="preserve">CONTOURS:</text>
<text class="s" x="218" y="892" font-size="12" textLength="99" lengthAdjust="spacingAndGlyphs" xml:space="preserve">UNITS=nondim</text>
<text class="s" x="331" y="892" font-size="12" textLength="31" lengthAdjust="spacingAndGlyphs" xml:space="preserve">LOW=</text>
<text class="s" x="376" y="892" font-size="12" textLength="52" lengthAdjust="spacingAndGlyphs" xml:space="preserve">−3.0000</text>
<text class="s" x="467" y="892" font-size="12" textLength="44" lengthAdjust="spacingAndGlyphs" xml:space="preserve">HIGH=</text>
<text class="s" x="522.5" y="892" font-size="12" textLength="44" lengthAdjust="spacingAndGlyphs" xml:space="preserve">2.8000</text>
<text class="s" x="604" y="892" font-size="12" textLength="72" lengthAdjust="spacingAndGlyphs" xml:space="preserve">INTERVAL=</text>
<text class="s" x="690.5" y="892" font-size="12" textLength="51" lengthAdjust="spacingAndGlyphs" xml:space="preserve">0.20000</text>
</svg>
</body></html>
